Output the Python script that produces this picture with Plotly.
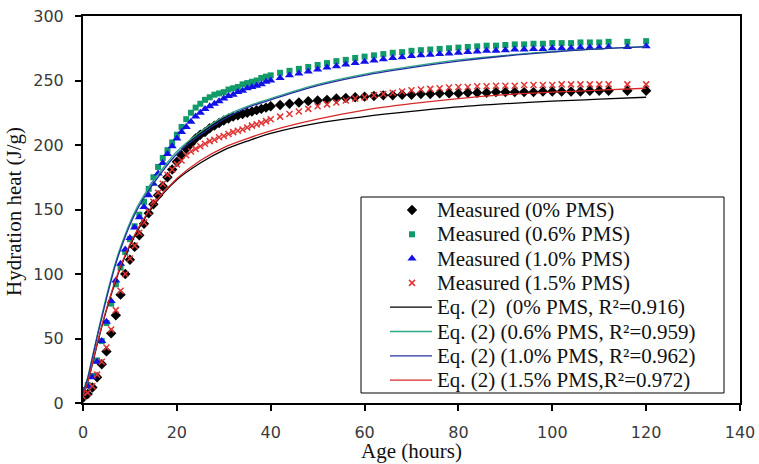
import plotly.graph_objects as go

# ---------------- data ----------------
age_meas = list(range(0, 41)) + list(range(42, 113, 2)) + [116, 120]

heat_0 = [4, 7, 12, 20, 30, 40, 54, 68, 84, 100, 111, 121, 130, 139, 147, 154, 161, 168, 175, 181,
          187, 192, 197, 201, 205, 208, 210, 213, 215, 217, 219, 220.5, 222, 223, 224, 225, 226, 227, 228, 229, 230,
          231, 232, 233, 234, 234.5, 235, 236, 236.5, 237, 237.5, 238, 238.5, 238.5, 239, 239, 239.5, 239.5, 240,
          240, 240, 240.5, 240.5, 240.5, 241, 241, 241, 241, 241, 241.5, 241.5, 241.5, 241.5, 241.5, 242, 242, 242,
          242, 242]
heat_06 = [10, 14, 21, 33, 48, 62, 77, 92, 105, 117, 127, 137, 146, 156, 166, 175, 183, 190, 196, 202,
           208, 214, 220, 225, 229, 232, 235, 237, 239, 240, 241, 243, 244, 245, 247, 248, 249, 250, 252, 253, 254,
           256, 257.5, 259, 260.5, 262, 263.5, 265, 266, 267.5, 268.5, 269.5, 270.5, 271.5, 272, 273, 273.5, 274,
           274.5, 275, 275.5, 276, 276.5, 277, 277, 277.5, 278, 278, 278.5, 278.5, 279, 279, 279, 279.5, 279.5,
           279.5, 280, 280, 280.5]
heat_10 = [9, 13, 20, 32, 48, 63, 79, 95, 108, 119, 128, 136, 144, 152, 161, 170, 178, 186, 193, 199,
           205, 210, 214, 218, 222, 225, 228, 230, 232, 234, 236, 238, 239, 241, 242, 244, 245, 246, 247, 249, 250,
           252, 254, 255.5, 257, 258.5, 260, 261, 262.5, 263.5, 264.5, 265.5, 266.5, 267.5, 268, 269, 269.5, 270,
           270.5, 271, 271.5, 272, 272.5, 273, 273, 273.5, 274, 274, 274.5, 274.5, 275, 275, 275, 275.5, 275.5,
           275.5, 276, 276, 276.5]
heat_15 = [5, 8, 13, 22, 32, 43, 57, 72, 87, 100, 112, 122, 132, 140, 148, 156, 163, 170, 177, 181,
           185, 188, 192, 195, 197, 199, 201, 203, 204, 206, 207, 208.5, 210, 211, 212, 213.5, 215, 216, 217, 218.5, 220,
           222, 224, 226, 228, 230, 231.5, 233, 234.5, 236, 237, 238.5, 239.5, 240.5, 241.5, 242.5, 243, 243.5,
           244, 244.5, 245, 245, 245.5, 245.5, 246, 246, 246, 246.5, 246.5, 246.5, 246.5, 247, 247, 247, 247, 247,
           247, 247, 247]

age_fit = [0, 1, 2, 3, 4, 5, 6, 7, 8, 10, 12, 15, 20, 25, 30, 35, 40, 50, 60, 70, 80, 90, 100, 110, 120]
fit_0 = [6, 16, 30, 45, 59, 72, 84, 95, 105, 122, 136, 153, 173, 186, 196, 203, 209, 217, 222, 226, 229.5,
         232, 234, 235.5, 237]
fit_06 = [8, 20, 36, 52, 68, 83, 97, 110, 121, 140, 155, 172, 195, 210, 222, 230, 236, 247, 255, 261, 266,
          269.5, 272.5, 274.5, 276.5]
fit_10 = [8, 19, 35, 51, 66, 81, 95, 108, 119, 138, 153, 170, 193, 208, 220, 229, 235, 246, 254, 260, 265,
          269, 272, 274.5, 276]
fit_15 = [6, 16, 31, 46, 60, 73, 85, 96, 106, 123, 137, 154, 174, 188, 198, 205, 211, 220, 227, 232, 236,
          239, 241, 242.5, 244]

x_ticks = [0, 20, 40, 60, 80, 100, 120, 140]
y_ticks = [0, 50, 100, 150, 200, 250, 300]

names_meas = ["Measured (0% PMS)", "Measured (0.6% PMS)", "Measured (1.0% PMS)", "Measured (1.5% PMS)"]
names_fit = ["Eq. (2) \u00a0(0% PMS, R\u00b2=0.916)", "Eq. (2) (0.6% PMS, R\u00b2=0.959)",
             "Eq. (2) (1.0% PMS, R\u00b2=0.962)", "Eq. (2) (1.5% PMS,R\u00b2=0.972)"]

# ---------------- styles / layout ----------------
W, H = 759, 464
ML, MT = 83, 16
MR = W - 740
MB = H - 403
PW, PH = W - ML - MR, H - MT - MB

meas_styles = [
    dict(symbol="diamond", size=8, color="#000000"),
    dict(symbol="square", size=6, color="#119b69"),
    dict(symbol="triangle-up", size=8, color="#1212e6"),
    dict(symbol="x-thin", size=6, color="#e03535", line=dict(width=1.5, color="#e03535")),
]
fit_colors = ["#000000", "#2fa887", "#22309e", "#d62828"]

fig = go.Figure()

for yv, st, nm in zip([heat_0, heat_06, heat_10, heat_15], meas_styles, names_meas):
    fig.add_trace(go.Scatter(x=age_meas, y=yv, mode="markers", marker=st, name=nm, showlegend=False))

for yv, col, nm in zip([fit_0, fit_06, fit_10, fit_15], fit_colors, names_fit):
    fig.add_trace(go.Scatter(x=age_fit, y=yv, mode="lines", line=dict(color=col, width=1.3, shape="spline"),
                             name=nm, showlegend=False))

# ---------------- hand-built legend (box as in the reference) ----------------
def fx(px):
    return (px - ML) / PW

def fy(py):
    return (H - MB - py) / PH

box_l, box_r, box_t, box_b = 361, 724, 197, 393
row0, row_step = 210, 24.3
sym_x, line_x0, line_x1, text_x = 412, 390, 432, 435

shapes = [dict(type="rect", xref="paper", yref="paper", x0=fx(box_l), x1=fx(box_r), y0=fy(box_b), y1=fy(box_t),
               line=dict(color="#000000", width=1), fillcolor="white", layer="below")]
annotations = []

serif = "Liberation Serif, Times New Roman, serif"
all_names = names_meas + names_fit
for i, nm in enumerate(all_names):
    py = row0 + i * row_step
    annotations.append(dict(xref="paper", yref="paper", x=fx(text_x), y=fy(py), text=nm, showarrow=False,
                            xanchor="left", yanchor="middle",
                            font=dict(family=serif, size=21, color="#111")))
    if i >= 4:
        shapes.append(dict(type="line", xref="paper", yref="paper", x0=fx(line_x0), x1=fx(line_x1),
                           y0=fy(py), y1=fy(py), line=dict(color=fit_colors[i - 4], width=1.3), layer="above"))

for i, st in enumerate(meas_styles):
    py = row0 + i * row_step
    fig.add_trace(go.Scatter(x=[fx(sym_x)], y=[fy(py)], xaxis="x2", yaxis="y2", mode="markers",
                             marker=st, showlegend=False, hoverinfo="skip", cliponaxis=False))

# axis titles
annotations.append(dict(xref="paper", yref="paper", x=fx(411), y=fy(464), text="Age (hours)", showarrow=False,
                        xanchor="center", yanchor="bottom", borderpad=0,
                        font=dict(family=serif, size=21, color="#111")))
annotations.append(dict(xref="paper", yref="paper", x=fx(14), y=fy(212), text="Hydration heat (J/g)",
                        showarrow=False, textangle=-90, xanchor="center", yanchor="middle",
                        font=dict(family=serif, size=21, color="#111")))

tick_font = dict(family="DejaVu Sans, Verdana, sans-serif", size=16, color="#3a3a3a")

fig.update_layout(
    width=W, height=H,
    margin=dict(l=ML, r=MR, t=MT, b=MB, pad=0, autoexpand=False),
    paper_bgcolor="white", plot_bgcolor="white",
    showlegend=False,
    shapes=shapes, annotations=annotations,
    xaxis=dict(range=[0, 140], tickvals=x_ticks, ticks="outside", ticklen=6, tickwidth=2, tickcolor="black",
               showline=True, linewidth=2, linecolor="black", mirror=True, showgrid=False, zeroline=False,
               tickfont=tick_font, ticklabelstandoff=8, automargin=False, ticklabeloverflow="allow"),
    yaxis=dict(range=[0, 300], tickvals=y_ticks, ticks="outside", ticklen=6, tickwidth=2, tickcolor="black",
               showline=True, linewidth=2, linecolor="black", mirror=True, showgrid=False, zeroline=False,
               tickfont=tick_font, ticklabelstandoff=8, automargin=False, ticklabeloverflow="allow"),
    xaxis2=dict(overlaying="x", range=[0, 1], visible=False, fixedrange=True),
    yaxis2=dict(overlaying="y", range=[0, 1], visible=False, fixedrange=True),
)

fig.write_html("out.html", config={"displayModeBar": False},
               post_script="document.body.style.margin='0';document.body.style.padding='0';")
